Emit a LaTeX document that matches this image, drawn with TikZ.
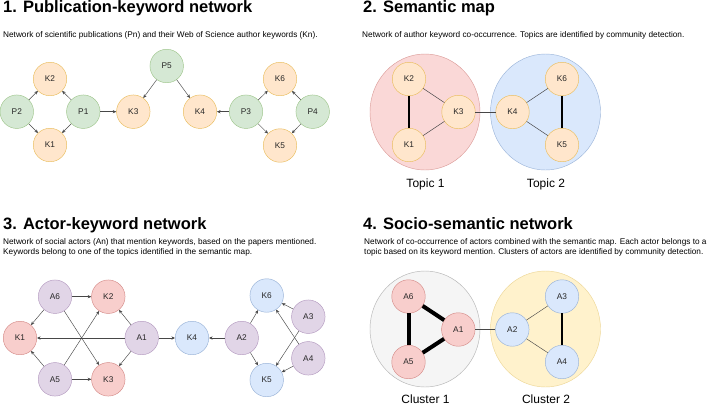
\documentclass[tikz,border=0pt]{standalone}
\usepackage{fontspec}
\setmainfont{Liberation Sans}
\usetikzlibrary{arrows.meta,shapes.geometric}
\definecolor{orF}{HTML}{FFE6CC}\definecolor{orD}{HTML}{D79B00}
\definecolor{grF}{HTML}{D5E8D4}\definecolor{grD}{HTML}{82B366}
\definecolor{reF}{HTML}{F8CECC}\definecolor{reD}{HTML}{B85450}
\definecolor{blF}{HTML}{DAE8FC}\definecolor{blD}{HTML}{6C8EBF}
\definecolor{puF}{HTML}{E1D5E7}\definecolor{puD}{HTML}{9673A6}
\definecolor{gyF}{HTML}{F5F5F5}\definecolor{gyD}{HTML}{666666}
\definecolor{yeF}{HTML}{FFF2CC}\definecolor{yeD}{HTML}{D6B656}
\definecolor{t1F}{HTML}{FAD8D7}
\tikzset{
  nd/.style={circle, minimum size=33.5pt, inner sep=0pt, line width=0.45pt, font=\fontsize{8.3}{10}\selectfont, text=black!85},
  kw/.style={nd, fill=orF, draw=orD!55!orF},
  pub/.style={nd, fill=grF, draw=grD!65!grF},
  kred/.style={nd, fill=reF, draw=reD!55!reF},
  kblue/.style={nd, fill=blF, draw=blD!60!blF},
  act/.style={nd, fill=puF, draw=puD!60!puF},
  grp/.style={ellipse, minimum width=110pt, minimum height=116pt, inner sep=0pt, line width=0.45pt},
  arr/.style={-{Stealth[length=3.6pt,width=3.2pt]}, line width=0.45pt, draw=black!72},
  thin/.style={line width=0.45pt, draw=black!72},
  thk/.style={line width=2pt, draw=black},
  vthk/.style={line width=4pt, draw=black},
  ttl/.style={anchor=base west, inner sep=0pt, font=\fontsize{16.5}{19}\selectfont\bfseries},
  sub/.style={anchor=base west, inner sep=0pt, font=\fontsize{8.25}{10}\selectfont},
  lbl/.style={anchor=base, inner sep=0pt, font=\fontsize{12}{14}\selectfont},
}
\begin{document}
\begin{tikzpicture}[x=1pt,y=-1pt]
\useasboundingbox[fill=white] (0,0) rectangle (708,405);
% ---------- titles ----------
\node[ttl] (t1) at (3,12.7) {1. Publication-keyword network};
\node[sub] (s1) at (3,37) {Network of scientific publications (Pn) and their Web of Science author keywords (Kn).};
\node[ttl] (t2) at (363,12.7) {2. Semantic map};
\node[sub] (s2) at (362,37) {Network of author keyword co-occurrence. Topics are identified by community detection.};
\node[ttl] (t3) at (3,229.5) {3. Actor-keyword network};
\node[sub] (s3a) at (3,244.5) {Network of social actors (An) that mention keywords, based on the papers mentioned.};
\node[sub] (s3b) at (3,254.5) {Keywords belong to one of the topics identified in the semantic map.};
\node[ttl] (t4) at (363,229.5) {4. Socio-semantic network};
\node[sub] (s4a) at (364,244.5) {Network of co-occurrence of actors combined with the semantic map. Each actor belongs to a};
\node[sub] (s4b) at (364,254.5) {topic based on its keyword mention. Clusters of actors are identified by community detection.};
% ---------- panel 1 ----------
\node[kw]  (ak2) at (50,79) {K2};
\node[pub] (ap2) at (16.8,111.7) {P2};
\node[pub] (ap1) at (83.3,111.7) {P1};
\node[kw]  (ak1) at (50,145) {K1};
\node[kw]  (ak3) at (133.3,111.7) {K3};
\node[pub] (ap5) at (166.7,66) {P5};
\node[kw]  (ak4) at (200,111.7) {K4};
\node[pub] (ap3) at (246,111.7) {P3};
\node[kw]  (ak6) at (280,79) {K6};
\node[pub] (ap4) at (312.7,111.7) {P4};
\node[kw]  (ak5) at (280,145.5) {K5};
\draw[arr] (ap2) -- (ak2);
\draw[arr] (ap2) -- (ak1);
\draw[arr] (ap1) -- (ak2);
\draw[arr] (ap1) -- (ak1);
\draw[arr] (ap1) -- (ak3);
\draw[arr] (ap5) -- (ak3);
\draw[arr] (ap5) -- (ak4);
\draw[arr] (ap3) -- (ak4);
\draw[arr] (ap3) -- (ak6);
\draw[arr] (ap3) -- (ak5);
\draw[arr] (ap4) -- (ak6);
\draw[arr] (ap4) -- (ak5);
% ---------- panel 2 ----------
\node[grp, fill=t1F, draw=reD!45!t1F] (top1) at (425,112) {};
\node[grp, fill=blF, draw=blD!55!blF] (top2) at (545.5,112) {};
\node[lbl] (top1l) at (425.5,187) {Topic 1};
\node[lbl] (top2l) at (546,187) {Topic 2};
\node[kw] (bk2) at (409,79) {K2};
\node[kw] (bk1) at (409,145) {K1};
\node[kw] (bk3) at (458.5,112) {K3};
\node[kw] (bk4) at (512.5,112) {K4};
\node[kw] (bk6) at (562,79) {K6};
\node[kw] (bk5) at (562,145) {K5};
\draw[thk] (bk2) -- (bk1);
\draw[thin] (bk2) -- (bk3);
\draw[thin] (bk1) -- (bk3);
\draw[thin] (bk3) -- (bk4);
\draw[thin] (bk4) -- (bk6);
\draw[thin] (bk4) -- (bk5);
\draw[thk] (bk6) -- (bk5);
% ---------- panel 3 ----------
\node[act]   (ca6) at (55,296.7) {A6};
\node[kred]  (ck2) at (108.3,296.7) {K2};
\node[kred]  (ck1) at (20,338) {K1};
\node[act]   (ca1) at (141.7,338) {A1};
\node[kblue] (ck4) at (192,338) {K4};
\node[act]   (ca2) at (241.7,338) {A2};
\node[act]   (ca5) at (55,379.3) {A5};
\node[kred]  (ck3) at (108.3,379.3) {K3};
\node[kblue] (ck6) at (266.7,295.5) {K6};
\node[act]   (ca3) at (308.3,316.7) {A3};
\node[act]   (ca4) at (308.3,358.3) {A4};
\node[kblue] (ck5) at (266.7,380) {K5};
\draw[arr] (ca6) -- (ck2);
\draw[arr] (ca6) -- (ck1);
\draw[arr] (ca6) -- (ck3);
\draw[arr] (ca5) -- (ck1);
\draw[arr] (ca5) -- (ck2);
\draw[arr] (ca5) -- (ck3);
\draw[arr] (ca1) -- (ck1);
\draw[arr] (ca1) -- (ck2);
\draw[arr] (ca1) -- (ck3);
\draw[arr] (ca1) -- (ck4);
\draw[arr] (ca2) -- (ck4);
\draw[arr] (ca2) -- (ck6);
\draw[arr] (ca2) -- (ck5);
\draw[arr] (ca3) -- (ck6);
\draw[arr] (ca3) -- (ck5);
\draw[arr] (ca4) -- (ck6);
\draw[arr] (ca4) -- (ck5);
% ---------- panel 4 ----------
\node[grp, fill=gyF, draw=gyD!45!gyF] (cl1) at (425,329) {};
\node[grp, fill=yeF, draw=yeD!45!yeF] (cl2) at (545.5,329) {};
\node[lbl] (cl1l) at (425.5,403.5) {Cluster 1};
\node[lbl] (cl2l) at (546,403.5) {Cluster 2};
\node[kred]  (da6) at (408.5,296.5) {A6};
\node[kred]  (da5) at (408.5,362) {A5};
\node[kred]  (da1) at (458.3,329.5) {A1};
\node[kblue] (da2) at (512.3,329.5) {A2};
\node[kblue] (da3) at (562,296.5) {A3};
\node[kblue] (da4) at (562,362) {A4};
\draw[vthk] (da6) -- (da5);
\draw[vthk] (da6) -- (da1);
\draw[vthk] (da5) -- (da1);
\draw[thin] (da1) -- (da2);
\draw[thin] (da2) -- (da3);
\draw[thin] (da2) -- (da4);
\draw[thk] (da3) -- (da4);
\end{tikzpicture}
\end{document}
